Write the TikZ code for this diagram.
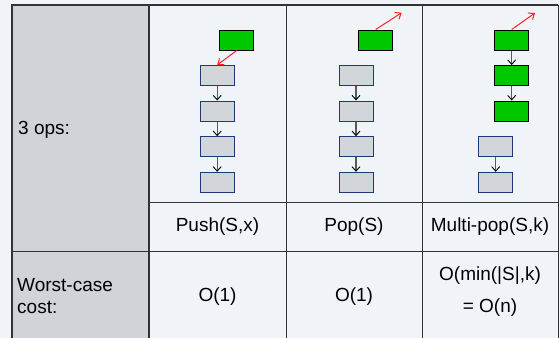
\documentclass[tikz,border=0pt]{standalone}
\usepackage{fontspec}
\setmainfont{Liberation Sans}
\usetikzlibrary{arrows.meta}
\definecolor{pagebg}{HTML}{F0F4F9}
\definecolor{headgray}{HTML}{D0D4D8}
\definecolor{cellgray}{HTML}{D2D5D9}
\definecolor{cellnavy}{HTML}{1F3A78}
\definecolor{topgreen}{HTML}{00C800}
\definecolor{ptrred}{HTML}{FF2020}
\definecolor{gridline}{HTML}{333333}
\begin{document}
\begin{tikzpicture}[x=1pt,y=-1pt,
  cell/.style={draw=cellnavy,line width=1pt,fill=cellgray,minimum width=34pt,minimum height=20pt,inner sep=0pt},
  topcell/.style={draw=black,line width=1pt,fill=topgreen,minimum width=34pt,minimum height=20pt,inner sep=0pt},
  link/.style={draw=black!65,line width=1.2pt,-{Straight Barb[length=4.5pt,width=8pt,black,line width=0.9pt]}},
  ptr/.style={draw=ptrred,line width=1pt,-{Straight Barb[length=5pt,width=8pt]}},
  lbl/.style={font=\fontsize{19}{22}\selectfont,inner sep=0pt},
  thin/.style={draw=gridline,line width=0.9pt},
  thick/.style={draw=gridline,line width=2pt}]
% page and table background
\fill[pagebg] (0,0) rectangle (560,338);
\useasboundingbox (0,0) rectangle (560,338);
\fill[headgray] (12,5) rectangle (149,338);
% grid
\draw[thin] (149,202) -- (558,202);
\draw[thin] (12,251.7) -- (558,251.7);
\draw[thin] (286,5) -- (286,338);
\draw[thin] (422,5) -- (422,338);
\draw[thin] (558,5) -- (558,338);
\draw[thick] (149,5) -- (149,338);
\draw[thick] (12,338) -- (12,5) -- (558,5);

% Push(S,x)
\node[topcell] (pg) at (236.7,40) {};
\node[cell] (pa) at (217.2,75.5) {};
\node[cell] (pb) at (217.2,111) {};
\node[cell] (pc) at (217.2,146.7) {};
\node[cell] (pd) at (217.2,182.3) {};
\draw[ptr] (pg.south) -- (pa.north);
\draw[link] (pa) -- (pb);
\draw[link] (pb) -- (pc);
\draw[link] (pc) -- (pd);

% Pop(S)
\node[topcell] (og) at (375.7,40) {};
\node[cell] (oa) at (356,75.5) {};
\node[cell] (ob) at (356,111) {};
\node[cell] (oc) at (356,146.7) {};
\node[cell] (od) at (356,182.3) {};
\coordinate (oend) at (401.7,12.7);
\draw[ptr] (og.north) -- (oend);
\draw[link] (oa) -- (ob);
\draw[link] (ob) -- (oc);
\draw[link] (oc) -- (od);

% Multi-pop(S,k)
\node[topcell] (ma) at (511.7,40) {};
\node[topcell] (mb) at (511.7,75.5) {};
\node[topcell] (mc) at (511.7,111) {};
\node[cell] (md) at (495.7,146.7) {};
\node[cell] (me) at (495.7,182.3) {};
\coordinate (mend) at (535,13);
\draw[ptr] (ma.north) -- (mend);
\draw[link] (ma) -- (mb);
\draw[link] (mb) -- (mc);
\draw[link] (md) -- (me);

% labels
\node[lbl,anchor=west] (ops) at (18,130) {3 ops:};
\node[lbl] (push) at (217.5,227) {Push(S,x)};
\node[lbl] (pop) at (354,227) {Pop(S)};
\node[lbl] (multi) at (490,227) {Multi-pop(S,k)};
\node[lbl,anchor=west,align=left] (wc) at (17,296) {Worst-case\\cost:};
\node[lbl] (c1) at (217.5,297) {O(1)};
\node[lbl] (c2) at (354,297) {O(1)};
\node[lbl,align=center] (c3) at (490,292) {O(min(|S|,k)\\[10pt]= O(n)};
\end{tikzpicture}
\end{document}
